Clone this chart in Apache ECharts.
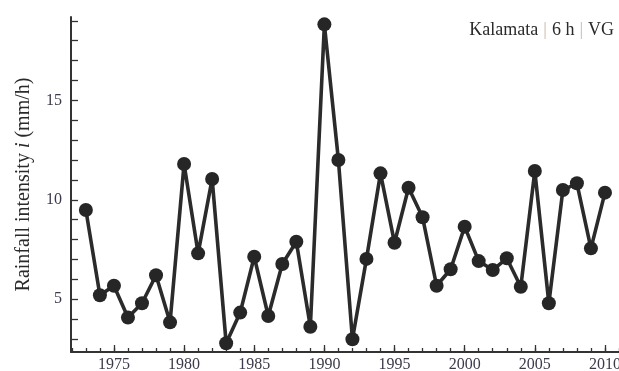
<!DOCTYPE html>
<html>
<head>
<meta charset="utf-8">
<script src="https://cdn.jsdelivr.net/npm/echarts@6/dist/echarts.min.js"></script>
<style>
  html, body { margin: 0; padding: 0; background: #fff; }
  #main { width: 619px; height: 371px; }
</style>
</head>
<body>
<div id="main"></div>
<script>
// years and rainfall intensity (mm/h), Kalamata 6 h
var years = [1973, 1974, 1975, 1976, 1977, 1978, 1979, 1980, 1981, 1982,
  1983, 1984, 1985, 1986, 1987, 1988, 1989, 1990, 1991, 1992,
  1993, 1994, 1995, 1996, 1997, 1998, 1999, 2000, 2001, 2002,
  2003, 2004, 2005, 2006, 2007, 2008, 2009, 2010];
var intensity = [9.49, 5.2, 5.68, 4.08, 4.8, 6.21, 3.84, 11.8, 7.31, 11.05,
  2.79, 4.33, 7.14, 4.16, 6.77, 7.89, 3.62, 18.82, 12.0, 2.99,
  7.03, 11.33, 7.84, 10.61, 9.12, 5.68, 6.51, 8.65, 6.92, 6.47,
  7.06, 5.63, 11.45, 4.8, 10.49, 10.83, 7.56, 10.36];
var yLabels = [5, 10, 15];
var yTicks = [3, 4, 5, 6, 7, 8, 9, 10, 11, 12, 13, 14, 15, 16, 17, 18, 19];
var xLabels = [1975, 1980, 1985, 1990, 1995, 2000, 2005, 2010];
var xTicks = [];
for (var y = 1972; y <= 2011; y++) xTicks.push(y);

var myChart = echarts.init(document.getElementById('main'));
var serif = '"Liberation Serif", "DejaVu Serif", serif';
var axisColor = '#333';

var points = years.map(function (yr, i) { return [yr, intensity[i]]; });

var option = {
  animation: false,
  title: {
    text: '{a|Kalamata} {p||} {a|6 h} {p||} {a|VG}',
    right: 0,
    top: 16,
    textStyle: {
      rich: {
        a: { fontFamily: serif, fontSize: 18, fontWeight: 'normal', color: '#2a2a2a' },
        p: { fontFamily: serif, fontSize: 18, fontWeight: 'normal', color: '#c9b8a6' }
      }
    }
  },
  grid: { left: 71, right: 0, top: 17, bottom: 19, outerBoundsMode: 'none' },
  xAxis: [{
    type: 'value',
    min: 1971.94,
    max: 2011.0,
    splitLine: { show: false },
    axisLine: { onZero: false, lineStyle: { color: axisColor, width: 2 } },
    axisTick: { inside: true, length: 4, customValues: xTicks, lineStyle: { color: axisColor, width: 1.3 } },
    axisLabel: {
      customValues: xLabels,
      fontFamily: serif, fontSize: 16, color: '#3a3a4a', margin: 5,
      formatter: function (v) { return String(v); }
    }
  }, {
    type: 'value',
    position: 'bottom',
    min: 1971.94,
    max: 2011.0,
    splitLine: { show: false },
    axisLine: { show: false },
    axisTick: { inside: true, length: 7, customValues: xLabels, lineStyle: { color: axisColor, width: 1.3 } },
    axisLabel: { show: false }
  }],
  yAxis: {
    type: 'value',
    min: 2.35,
    max: 19.19,
    name: '{n|Rainfall intensity }{i|i}{n| (mm/h)}',
    nameLocation: 'middle',
    nameRotate: 90,
    nameGap: 37,
    nameTextStyle: {
      rich: {
        n: { fontFamily: serif, fontSize: 20, color: '#2a2a2a' },
        i: { fontFamily: serif, fontSize: 20, fontStyle: 'italic', color: '#2a2a2a' }
      }
    },
    splitLine: { show: false },
    axisLine: { show: true, lineStyle: { color: axisColor, width: 2 } },
    axisTick: { inside: true, length: 7, customValues: yTicks, lineStyle: { color: axisColor, width: 1.3 } },
    axisLabel: {
      customValues: yLabels,
      fontFamily: serif, fontSize: 16, color: '#3a3a4a', margin: 9
    }
  },
  series: [{
    type: 'line',
    data: points,
    symbol: 'circle',
    symbolSize: 14,
    lineStyle: { color: '#2b2b2b', width: 3.6 },
    itemStyle: { color: '#262626' }
  }]
};

myChart.setOption(option);
</script>
</body>
</html>
